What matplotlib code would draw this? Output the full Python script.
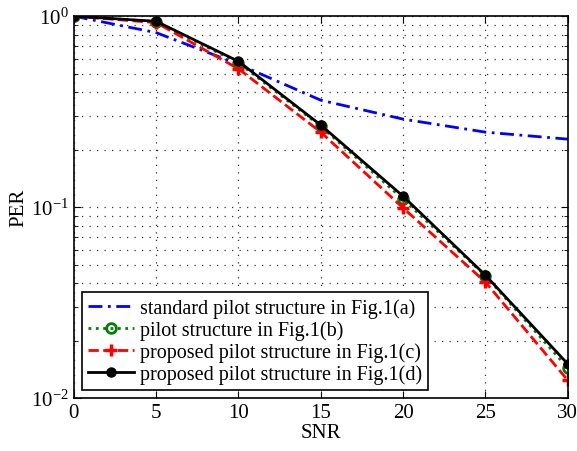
import matplotlib
matplotlib.use("Agg")
import matplotlib.pyplot as plt
from matplotlib.ticker import LogLocator, NullFormatter

plt.rcParams['font.family'] = ['Liberation Serif', 'DejaVu Serif']
plt.rcParams['mathtext.fontset'] = 'custom'
plt.rcParams['mathtext.rm'] = 'Liberation Serif'
plt.rcParams['mathtext.it'] = 'Liberation Serif'

snr = [0, 5, 10, 15, 20, 25, 30]
per_a = [1.0, 0.82, 0.56, 0.363, 0.289, 0.247, 0.227]
per_b = [1.0, 0.935, 0.57, 0.265, 0.110, 0.0437, 0.0144]
per_c = [1.0, 0.925, 0.53, 0.247, 0.099, 0.0405, 0.0124]
per_d = [1.0, 0.94, 0.58, 0.269, 0.114, 0.044, 0.0151]
labels = ['standard pilot structure in Fig.1(a)',
          'pilot structure in Fig.1(b)',
          'proposed pilot structure in Fig.1(c)',
          'proposed pilot structure in Fig.1(d)']

fig = plt.figure(figsize=(5.77, 4.52), dpi=100)
ax = fig.add_axes([0.128, 0.117, 0.856, 0.845])

ax.semilogy(snr, per_a, color='blue', linestyle=(0, (5, 2, 1, 2)), linewidth=2, label=labels[0])
ax.semilogy(snr, per_b, color='green', linestyle=':', linewidth=2, marker='o',
            markersize=7, markerfacecolor='none', markeredgewidth=2, label=labels[1])
ax.semilogy(snr, per_c, color='red', linestyle='--', linewidth=2, marker='+',
            markersize=8, markeredgewidth=2.5, label=labels[2])
ax.semilogy(snr, per_d, color='black', linestyle='-', linewidth=2, marker='o',
            markersize=6.5, label=labels[3])

ax.set_xlim(0, 30)
ax.set_ylim(1e-2, 1)
ax.set_xticks([0, 5, 10, 15, 20, 25, 30])
ax.yaxis.set_major_locator(LogLocator(base=10, numticks=10))
ax.yaxis.set_minor_locator(LogLocator(base=10, subs=range(2, 10), numticks=10))
ax.yaxis.set_minor_formatter(NullFormatter())
ax.tick_params(which='both', direction='in', top=True, right=True, labelsize=15)
ax.tick_params(which='major', length=5)
ax.tick_params(which='minor', length=3)
ax.grid(True, which='major', linestyle=(0, (1, 5)), color='0.2', linewidth=0.9)
ax.grid(True, which='minor', axis='y', linestyle=(0, (1, 5)), color='0.2', linewidth=0.9)
for s in ax.spines.values():
    s.set_linewidth(1.2)

ax.set_xlabel('SNR', fontsize=15, labelpad=1)
ax.set_ylabel('PER', fontsize=15, labelpad=2)

leg = ax.legend(loc='lower left', fontsize=14.5, fancybox=False, framealpha=1,
                edgecolor='black', borderpad=0.3, labelspacing=0.12,
                handlelength=2.3, handletextpad=0.3, borderaxespad=0.4)
leg.get_frame().set_linewidth(1.2)

fig.savefig('out.png', dpi=100)
